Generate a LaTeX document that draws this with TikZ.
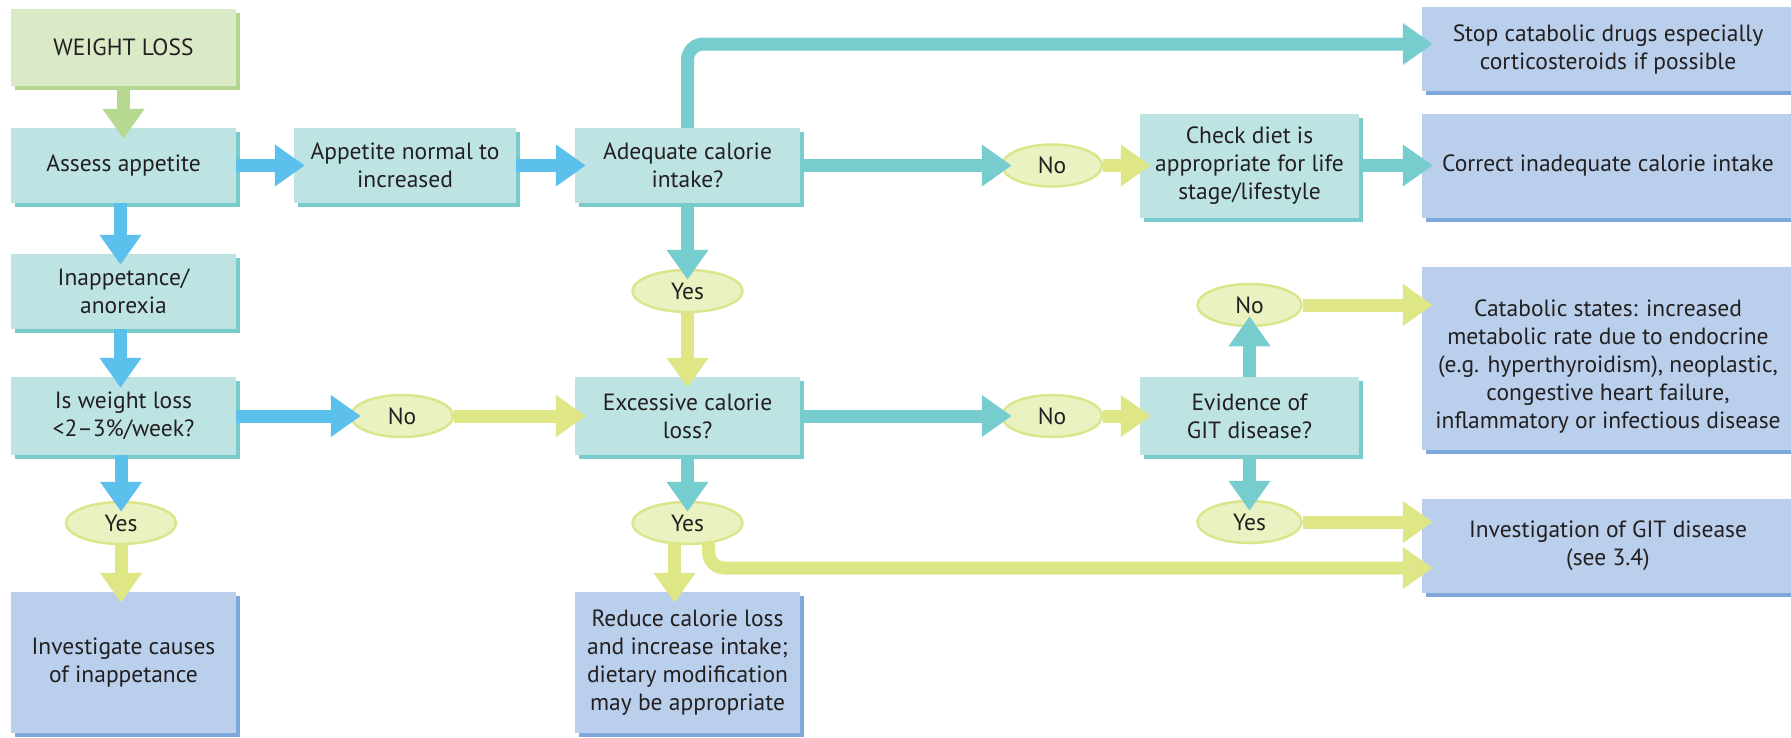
\documentclass[tikz,border=0pt]{standalone}
\usepackage{fontspec}
\setmainfont{PT Sans}
\usetikzlibrary{arrows.meta,shapes.geometric,shadows}

\definecolor{inkdark}{HTML}{231F20}
\definecolor{startfill}{HTML}{DAEAC7}
\definecolor{startshade}{HTML}{B5D690}
\definecolor{stepfill}{HTML}{BDE4E3}
\definecolor{stepshade}{HTML}{7ACBCB}
\definecolor{endfill}{HTML}{B9CFEB}
\definecolor{endshade}{HTML}{7EA8DA}
\definecolor{ansfill}{HTML}{EAF2C1}
\definecolor{ansline}{HTML}{DCE58B}
\definecolor{flowblue}{HTML}{5CC0EC}
\definecolor{flowteal}{HTML}{77CDCE}
\definecolor{flowyellow}{HTML}{DEE686}
\definecolor{flowgreen}{HTML}{B6D891}

\begin{document}
\begin{tikzpicture}[x=1pt,y=-1pt,
  every node/.style={font=\fontsize{23.5}{28}\selectfont, text=inkdark, align=center, inner sep=0pt},
  card/.style 2 args={rectangle, draw=none, minimum width=#1, minimum height=#2},
  startbox/.style 2 args={card={#1}{#2}, fill=startfill,
    copy shadow={fill=startshade, draw=none, shadow xshift=4pt, shadow yshift=-4pt}},
  stepbox/.style 2 args={card={#1}{#2}, fill=stepfill,
    copy shadow={fill=stepshade, draw=none, shadow xshift=4pt, shadow yshift=-4pt}},
  endbox/.style 2 args={card={#1}{#2}, fill=endfill,
    copy shadow={fill=endshade, draw=none, shadow xshift=4pt, shadow yshift=-4pt}},
  answer/.style={ellipse, fill=ansfill, draw=ansline, line width=2.5pt,
    minimum width=#1, minimum height=42pt},
  flow/.style={line width=13pt, -{Triangle[width=40pt,length=30pt]}, shorten >=-11pt},
  fblue/.style={flow, draw=flowblue},
  fteal/.style={flow, draw=flowteal},
  fyellow/.style={flow, draw=flowyellow},
  fgreen/.style={flow, draw=flowgreen},
]
\useasboundingbox (0,0) rectangle (1791,737);
\fill[white] (0,0) rectangle (1791,737);
\clip (0,0) rectangle (1791,737);

% boxes
\node[startbox={225pt}{77pt}] (wl) at (123.5,47.5) {WEIGHT LOSS};
\node[stepbox={225pt}{75pt}] (assess) at (123.5,165.5) {Assess appetite};
\node[stepbox={222pt}{75pt}] (appn) at (405,165.5) {Appetite normal to\\increased};
\node[stepbox={225pt}{75pt}] (adeq) at (687.5,165.5) {Adequate calorie\\intake?};
\node[endbox={372pt}{84pt}] (stop) at (1608,49) {Stop catabolic drugs especially\\corticosteroids if possible};
\node[stepbox={219pt}{104pt}] (check) at (1249.5,165.5) {Check diet is\\appropriate for life\\stage/lifestyle};
\node[endbox={372pt}{104pt}] (correct) at (1608,165.5) {Correct inadequate calorie intake};
\node[stepbox={225pt}{75pt}] (inapp) at (123.5,291.5) {Inappetance/\\anorexia};
\node[stepbox={225pt}{78pt}] (isw) at (123.5,416) {Is weight loss\\<2--3\%/week?};
\node[stepbox={225pt}{78pt}] (excess) at (687.5,416) {Excessive calorie\\loss?};
\node[stepbox={219pt}{78pt}] (evid) at (1249.5,416) {Evidence of\\GIT disease?};
\node[endbox={372pt}{183pt}] (catab) at (1608,358.5) {\rule{0pt}{32pt}Catabolic states: increased\\metabolic rate due to endocrine\\(e.g. hyperthyroidism), neoplastic,\\congestive heart failure,\\inflammatory or infectious disease};
\node[endbox={372pt}{94pt}] (invgit) at (1608,546) {Investigation of GIT disease\\(see 3.4)};
\node[endbox={225pt}{141pt}] (invcause) at (123.5,662.5) {Investigate causes\\of inappetance};
\node[endbox={225pt}{141pt}] (reduce) at (687.5,662.5) {Reduce calorie loss\\and increase intake;\\dietary modification\\may be appropriate};

% yes / no answers
\node[answer={100pt}] (no1) at (1052,165.5) {No};
\node[answer={110pt}] (yes1) at (687.5,291) {Yes};
\node[answer={102pt}] (no2) at (402,416) {No};
\node[answer={100pt}] (no3) at (1052,416) {No};
\node[answer={104pt}] (no4) at (1249.5,305) {No};
\node[answer={110pt}] (yes2) at (121,523) {Yes};
\node[answer={110pt}] (yes3) at (687.5,523) {Yes};
\node[answer={104pt}] (yes4) at (1249.5,522) {Yes};

% connectors
\draw[fgreen] (wl.south) -- (assess.north);
\draw[fblue] (assess.east) -- (appn.west);
\draw[fblue] (appn.east) -- (adeq.west);
\draw[fblue] ([xshift=-3pt]assess.south) -- ([xshift=-3pt]inapp.north);
\draw[fblue] ([xshift=-3pt]inapp.south) -- ([xshift=-3pt]isw.north);
\draw[fblue] (isw.east) -- (no2.west);
\draw[fyellow] (no2.east) -- (excess.west);
\draw[fblue] (isw.south -| yes2.north) -- (yes2.north);
\draw[fyellow] (yes2.south) -- (yes2.south |- invcause.north);

\draw[fteal, rounded corners=16pt] (adeq.north) |- ([yshift=5pt]stop.west);
\draw[fteal] (adeq.east) -- (no1.west);
\draw[fyellow] (no1.east) -- (check.west);
\draw[fteal] (check.east) -- (correct.west);
\draw[fteal] (adeq.south) -- (yes1.north);
\draw[fyellow] (yes1.south) -- (excess.north);

\draw[fteal] (excess.east) -- (no3.west);
\draw[fyellow] (no3.east) -- (evid.west);
\draw[fteal] (evid.north) -- (no4.south);
\draw[fyellow] (no4.east) -- (no4.east -| catab.west);
\draw[fteal] (evid.south) -- (yes4.north);
\draw[fyellow] (yes4.east) -- (yes4.east -| invgit.west);

\draw[fteal] (excess.south) -- (yes3.north);
\draw[fyellow] ([xshift=-13pt,yshift=3pt]yes3.south) -- ([xshift=-13pt]reduce.north);
\draw[fyellow, rounded corners=16pt] ([xshift=21pt,yshift=3pt]yes3.south) |- ([yshift=-22pt]invgit.west);
\end{tikzpicture}
\end{document}
